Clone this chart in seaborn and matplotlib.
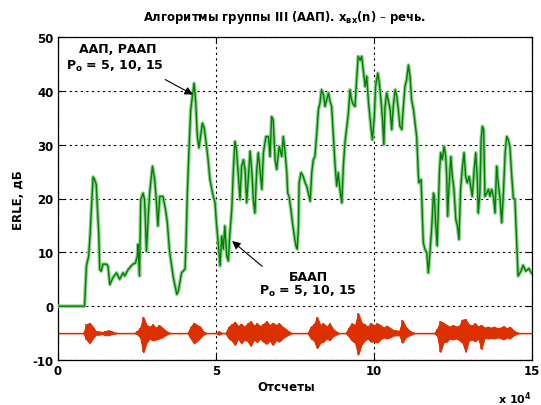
import numpy as np
import pandas as pd
import matplotlib
matplotlib.use("Agg")
import matplotlib.pyplot as plt
import seaborn as sns

# ERLE curve: sample index (x 10^4) and echo return loss enhancement, dB
erle_x = [0, 0.84, 0.90, 0.97, 1.02, 1.05, 1.11, 1.16, 1.21, 1.24, 1.29, 1.32, 1.37, 1.42,
          1.53, 1.58, 1.64, 1.74, 1.85, 1.95, 2.06, 2.11, 2.22, 2.32, 2.37, 2.45, 2.51, 2.53,
          2.58, 2.62, 2.69, 2.74, 2.80, 2.85, 2.90, 2.99, 3.06, 3.11, 3.16, 3.22, 3.32, 3.40,
          3.46, 3.53, 3.65, 3.76, 3.81, 3.91, 4.02, 4.05, 4.09, 4.15, 4.20, 4.26, 4.31, 4.36,
          4.41, 4.46, 4.51, 4.57, 4.63, 4.68, 4.74, 4.81, 4.89, 4.97, 5.02, 5.07, 5.13, 5.18,
          5.23, 5.28, 5.34, 5.39, 5.44, 5.50, 5.55, 5.60, 5.65, 5.71, 5.76, 5.81, 5.87, 5.92,
          5.97, 6.02, 6.08, 6.13, 6.18, 6.23, 6.29, 6.34, 6.39, 6.45, 6.50, 6.58, 6.66, 6.71,
          6.76, 6.81, 6.87, 6.92, 7.00, 7.08, 7.13, 7.18, 7.24, 7.27, 7.31, 7.37, 7.42, 7.48,
          7.53, 7.57, 7.61, 7.63, 7.69, 7.76, 7.82, 7.87, 7.92, 7.98, 8.03, 8.08, 8.13, 8.19,
          8.24, 8.29, 8.34, 8.40, 8.45, 8.50, 8.56, 8.61, 8.66, 8.71, 8.77, 8.82, 8.87, 8.92,
          8.98, 9.03, 9.08, 9.14, 9.19, 9.24, 9.29, 9.35, 9.40, 9.45, 9.50, 9.56, 9.61, 9.66,
          9.72, 9.77, 9.82, 9.87, 9.91, 9.95, 10.01, 10.05, 10.12, 10.17, 10.22, 10.27, 10.31,
          10.35, 10.40, 10.45, 10.51, 10.56, 10.61, 10.67, 10.72, 10.77, 10.82, 10.88, 10.93,
          10.98, 11.03, 11.09, 11.14, 11.19, 11.25, 11.30, 11.35, 11.38, 11.40, 11.42, 11.49,
          11.53, 11.56, 11.61, 11.67, 11.72, 11.77, 11.83, 11.88, 11.91, 11.95, 12.00, 12.04,
          12.07, 12.11, 12.16, 12.22, 12.27, 12.30, 12.33, 12.37, 12.43, 12.48, 12.53, 12.59,
          12.64, 12.69, 12.74, 12.80, 12.85, 12.90, 12.95, 13.01, 13.06, 13.11, 13.17, 13.22,
          13.27, 13.30, 13.35, 13.39, 13.43, 13.47, 13.51, 13.57, 13.62, 13.67, 13.72, 13.78,
          13.83, 13.88, 13.91, 13.99, 14.04, 14.09, 14.15, 14.20, 14.25, 14.30, 14.36, 14.41,
          14.46, 14.56, 14.65, 14.72, 14.80, 14.90, 15.0]
erle_db = [0, 0, 7.5, 9.3, 13.6, 17.3, 24, 23.5, 22.6, 19, 13.6, 6.8, 6.5, 7.8,
           7.8, 7.5, 4, 5.3, 6.2, 5, 6.2, 5.6, 6.8, 7.5, 7.8, 8, 9.3, 11.5,
           5.6, 19.8, 21, 19.8, 10.2, 16, 21, 26, 23.5, 19.8, 14.9, 20.4, 20.4, 18,
           15.5, 10.2, 5.3, 2.2, 2.8, 6.2, 6.9, 11.2, 20.4, 29.7, 36.5, 39.3, 41.4, 37.7,
           31.5, 29.4, 31.5, 34, 33, 30.6, 27.8, 23.5, 21, 19.2, 14.9, 11.8, 7.5, 13,
           10.6, 14.9, 9.3, 8.4, 13.6, 18, 25.4, 30.6, 29, 24, 19.8, 26, 27.2, 25.4,
           19.2, 23.5, 28.8, 25.4, 19.8, 17.3, 25.4, 28.5, 25.4, 21.7, 28.5, 31.5, 31.5, 27.8,
           35.2, 34.6, 27.2, 25.4, 29.7, 27.8, 31.5, 29, 24.8, 21, 20.4, 18, 15.5, 13,
           11.2, 10.6, 14.9, 22.9, 24.8, 24.1, 22.9, 22.3, 21, 19.5, 24.8, 27.2, 27.8, 32.2,
           36.5, 37.7, 40.2, 39.3, 37.1, 38.3, 39.6, 38, 37.1, 32.2, 26, 22.3, 24.8, 21.7,
           19.2, 26, 30.3, 33.4, 35.9, 40.2, 38.3, 37.4, 37.1, 42, 46.4, 45.7, 46.4, 43.9,
           40.8, 42.7, 38.3, 35.2, 32.8, 30.9, 35.2, 40.8, 43.3, 41.4, 38.3, 34.6, 30,
           37.1, 39.6, 38.3, 36.5, 32.8, 37.1, 40.2, 39, 36.5, 33.4, 32.8, 37.1,
           40.8, 42, 44.8, 42.7, 38.3, 36.5, 34, 31.5, 27.8, 24.8, 22.9, 23.5,
           16.7, 11.8, 10.6, 9.9, 6.2, 9.9, 14.9, 21, 20.4, 15.5, 11.2, 18.6,
           24.8, 28.5, 27.2, 29.7, 27.8, 24.1, 16.7, 21.7, 27.8, 24.1, 21.7, 16.1,
           14.9, 12.4, 21.7, 26, 28.5, 24.1, 22.9, 24.1, 22.3, 20.4, 25.4, 28.5,
           23.5, 17.3, 21, 30.9, 33.4, 32.8, 20.4, 21, 21.7, 20.4, 21.7, 20.4,
           17.3, 26, 24.1, 19.8, 15.5, 20.4, 28.5, 31.5, 30.9, 29.7, 24.1, 20,
           19.9, 5.6, 6.5, 7.6, 6.5, 7, 6]

# Input speech signal x_vx(n), drawn around -5 dB: upper / lower envelope every 0.1 x 10^4 samples
speech_up = [0, 0, 0, 0, 0, 0, 0, 0, 0, 1.6, 1.9, 1.2, 0.3, 0.3, 0.2, 0.4, 0.5, 0.3, 0.1, 0,
             0, 0, 0, 0, 0, 0.3, 1.0, 3.0, 1.5, 1.2, 1.6, 1.0, 1.5, 1.0, 0.5, 0.1, 0, 0, 0, 0,
             0, 0, 1.2, 1.9, 1.5, 1.2, 0.3, 0, 0, 0, 0, 0.3, 0, 0, 1.2, 1.6, 2.1, 1.3, 1.7, 1.2,
             1.8, 2.2, 1.4, 1.8, 1.3, 1.7, 2.2, 1.5, 1.9, 1.5, 1.8, 1.2, 0.8, 0.3, 0, 0, 0, 0, 0, 0,
             1.2, 1.6, 3.0, 1.5, 1.8, 1.2, 1.8, 0.8, 0.3, 0, 0, 0, 1.0, 1.8, 1.5, 3.7, 2.0, 1.6, 1.2, 1.9,
             1.4, 1.8, 1.5, 1.0, 1.4, 1.0, 0.6, 0.5, 0.4, 2.4, 1.2, 0.6, 0.2, 0, 0, 0, 0, 0, 0, 0,
             0.8, 2.2, 1.9, 1.5, 1.2, 1.5, 1.2, 1.4, 2.5, 2.6, 1.6, 1.4, 1.8, 1.2, 1.5, 1.0, 1.2, 1.0, 1.2, 0.9,
             1.0, 1.3, 0.9, 1.2, 0.6, 0.2, 0, 0, 0, 0, 0]
speech_lo = [0, 0, 0, 0, 0, 0, 0, 0, 0, 1.2, 1.9, 1.0, 0.3, 0.3, 0.2, 0.4, 0.4, 0.2, 0.1, 0,
             0, 0, 0, 0, 0, 0.2, 0.8, 3.6, 1.8, 1.0, 1.4, 1.2, 1.0, 0.8, 0.4, 0.1, 0, 0, 0, 0,
             0, 0, 1.0, 1.9, 1.5, 0.9, 0.3, 0, 0, 0, 0, 0.3, 0, 0, 1.0, 1.4, 2.2, 1.0, 1.9, 1.2,
             1.5, 2.4, 1.2, 1.7, 1.0, 1.6, 2.0, 1.4, 2.2, 1.3, 1.6, 1.0, 0.6, 0.3, 0, 0, 0, 0, 0, 0,
             1.0, 1.4, 2.8, 1.8, 1.6, 1.0, 1.3, 0.6, 0.3, 0, 0, 0, 0.6, 1.4, 1.8, 4.0, 2.2, 1.4, 1.0, 1.6,
             1.5, 1.8, 1.2, 0.8, 1.0, 0.8, 0.5, 0.4, 0.4, 1.8, 0.8, 0.5, 0.2, 0, 0, 0, 0, 0, 0, 0,
             0.5, 3.5, 1.7, 1.6, 1.0, 1.2, 1.0, 1.3, 1.8, 3.5, 1.4, 1.2, 1.5, 1.0, 3.0, 0.9, 1.0, 0.9, 1.0, 0.8,
             0.9, 1.2, 0.8, 1.0, 0.5, 0.2, 0, 0, 0, 0, 0]
speech_level = -5

x_ticks = [0, 5, 10, 15]
y_ticks = [-10, 0, 10, 20, 30, 40, 50]

sns.set_theme(style="white")
plt.rcParams["font.family"] = ["DejaVu Sans"]
plt.rcParams["mathtext.fontset"] = "dejavusans"
for key in ("text.color", "axes.labelcolor", "xtick.color", "ytick.color"):
    plt.rcParams[key] = "black"

fig = plt.figure(figsize=(5.41, 4.06), dpi=100)
ax = fig.add_axes([58 / 541, 1 - 361 / 406, (532 - 58) / 541, (361 - 38) / 406])
ax.set_facecolor("white")

erle = pd.DataFrame({"n": erle_x, "erle": erle_db})
speech_t = np.arange(len(speech_up)) * 0.1
speech_top = speech_level + np.array(speech_up)
speech_bot = speech_level - np.array(speech_lo)

# speech signal: baseline, envelope and sample spikes
red = "#dd3000"
ax.axhline(speech_level, color=red, lw=1.0, zorder=2)
ax.fill_between(speech_t, speech_bot, speech_top, color=red, lw=0.8, edgecolor=red, zorder=2)
ax.vlines(speech_t, speech_bot, speech_top, color=red, lw=1.1, zorder=2)

# ERLE curves (light halo under the main green trace)
sns.lineplot(data=erle, x="n", y="erle", ax=ax, sort=False, color="#8fcf8f",
             lw=2.6, zorder=3, legend=False)
sns.lineplot(data=erle, x="n", y="erle", ax=ax, sort=False, color="#008000",
             lw=1.0, zorder=4, legend=False)

ax.set_xlim(0, 15)
ax.set_ylim(-10, 50)
ax.set_xticks(x_ticks)
ax.set_yticks(y_ticks)
ax.set_xticklabels([str(t) for t in x_ticks], fontsize=8.5, fontweight="bold")
ax.set_yticklabels([str(t) for t in y_ticks], fontsize=8.5, fontweight="bold")
ax.tick_params(direction="in", length=4, width=0.8, top=True, right=True,
               bottom=True, left=True, colors="black", pad=3)
ax.grid(True, color="black", linestyle=(0, (2, 3)), linewidth=0.8)
ax.set_axisbelow(True)
for s in ax.spines.values():
    s.set_color("black")
    s.set_linewidth(0.9)
ax.set_xlabel("")
ax.set_ylabel("")

# labels
fig.text(285 / 541, 1 - 17 / 406, r"Алгоритмы группы III (ААП). $\mathregular{x_{вх}}$(n) – речь.",
         ha="center", va="center", fontsize=8.4, fontweight="bold")
fig.text(286 / 541, 1 - 388 / 406, "Отсчеты", ha="center", va="center",
         fontsize=8.5, fontweight="bold")
fig.text(18 / 541, 1 - 200 / 406, "ERLE, дБ", ha="center", va="center",
         rotation=90, fontsize=8.5, fontweight="bold")
fig.text(532 / 541, 1 - 404 / 406, r"x 10$^{\mathregular{4}}$", ha="right", va="baseline",
         fontsize=8, fontweight="bold")

# annotations
ax.text(1.9, 47.9, "ААП, РААП", ha="center", va="center", fontsize=9, fontweight="bold")
ax.text(1.8, 44.7, r"$\mathregular{P_o}$ = 5, 10, 15", ha="center", va="center",
        fontsize=9, fontweight="bold")
ax.annotate("", xy=(4.27, 39.3), xytext=(3.39, 42.1),
            arrowprops=dict(arrowstyle="-|>", color="black", lw=0.8, mutation_scale=12,
                            shrinkA=0, shrinkB=0))
ax.text(7.94, 5.6, "БААП", ha="center", va="center", fontsize=9, fontweight="bold")
ax.text(7.9, 3.0, r"$\mathregular{P_o}$ = 5, 10, 15", ha="center", va="center",
        fontsize=9, fontweight="bold")
ax.annotate("", xy=(5.51, 12.1), xytext=(6.46, 7.4),
            arrowprops=dict(arrowstyle="-|>", color="black", lw=0.8, mutation_scale=12,
                            shrinkA=0, shrinkB=0))

fig.savefig("out.png", dpi=100, facecolor="white")
